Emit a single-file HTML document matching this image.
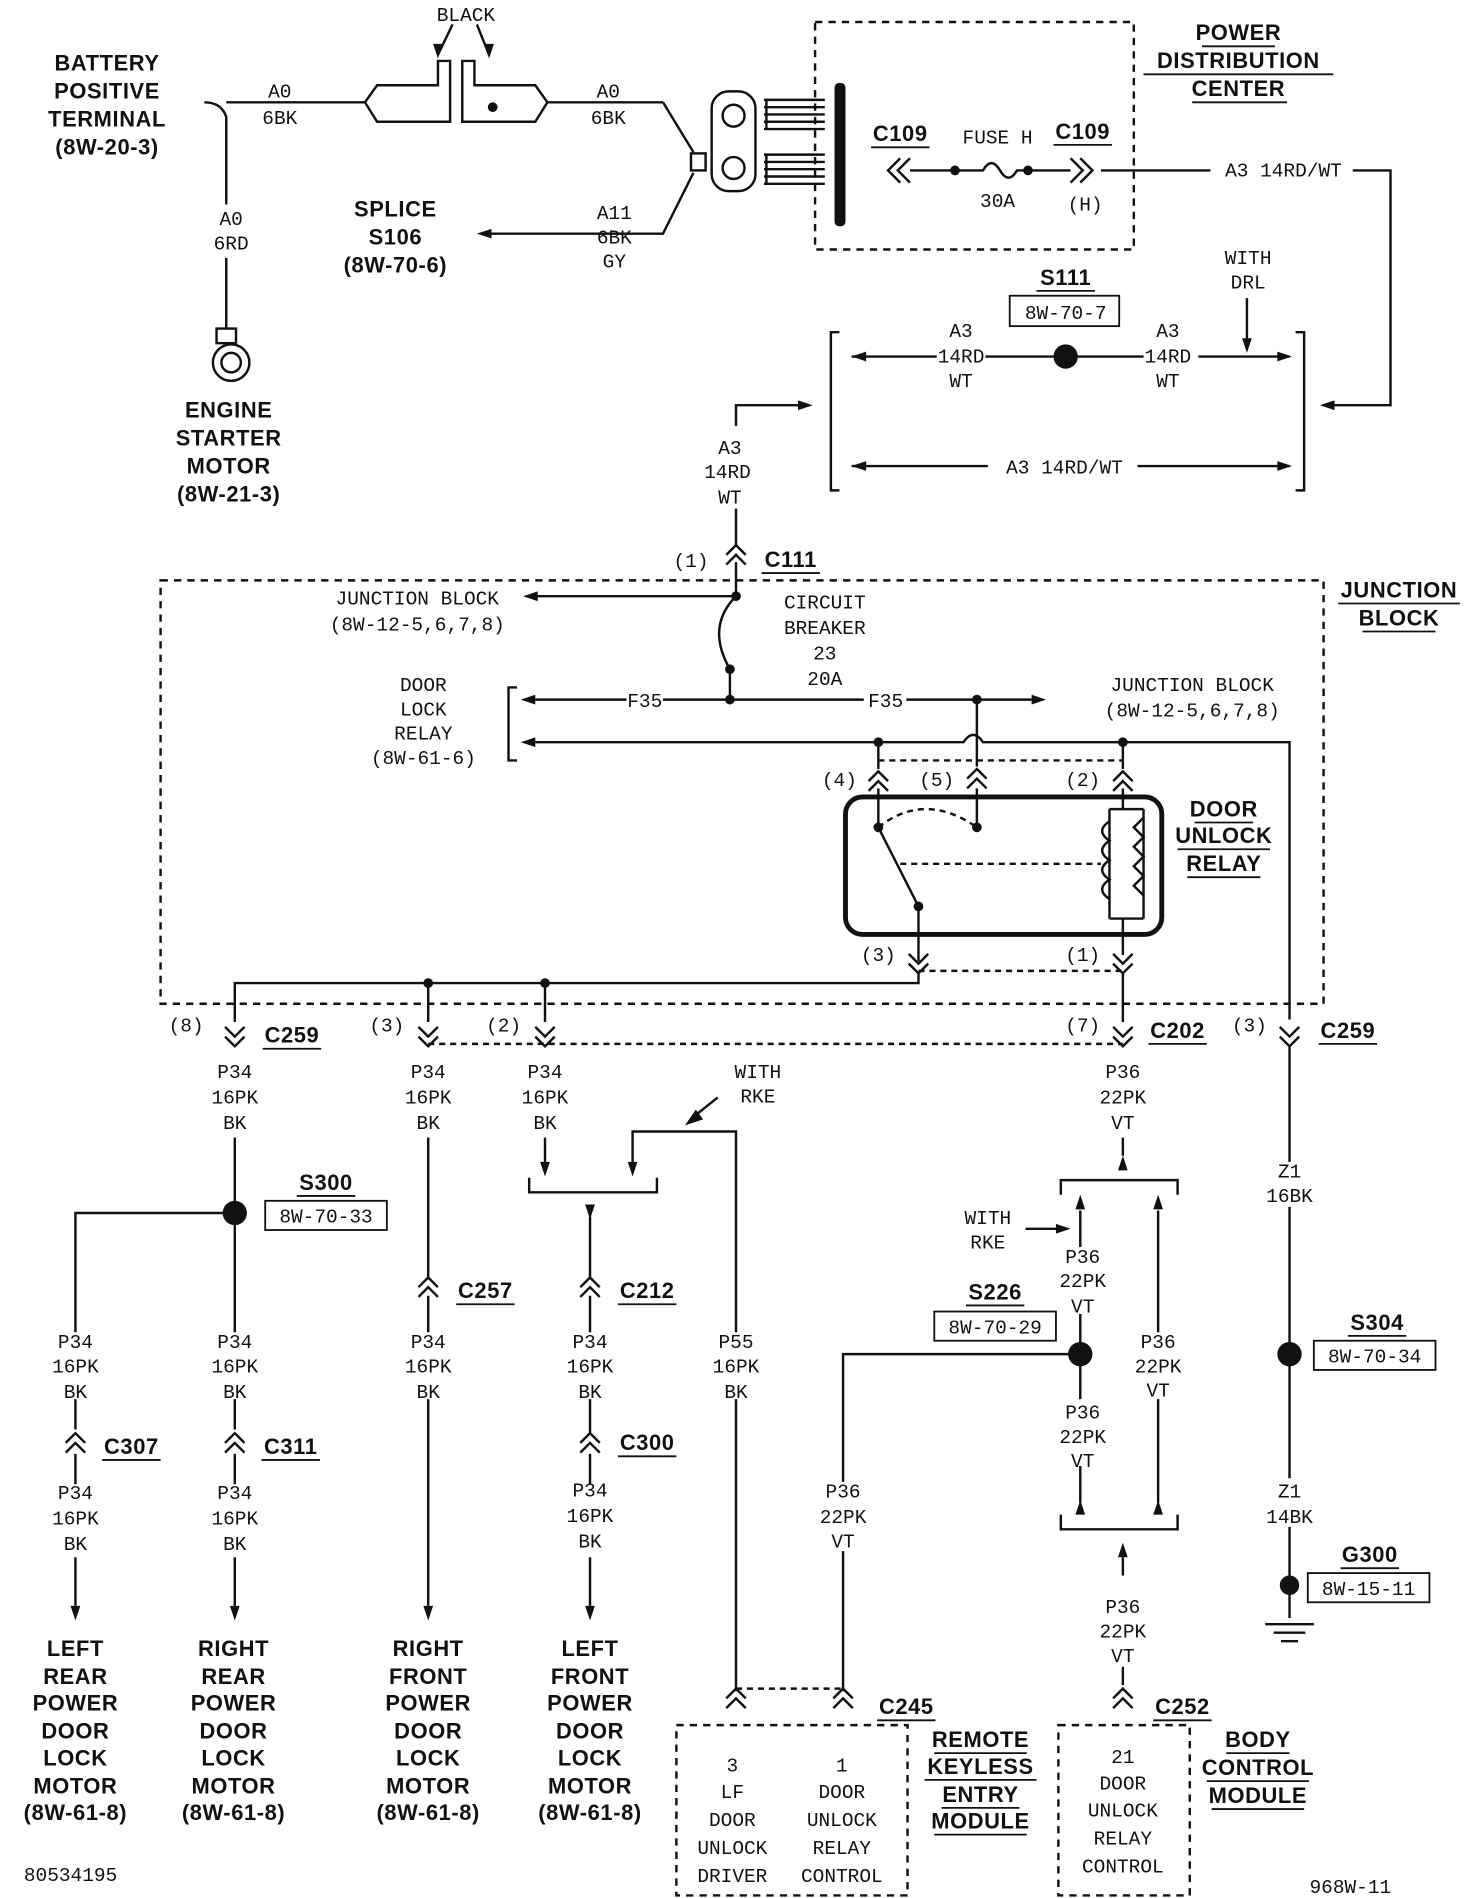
<!DOCTYPE html>
<html><head><meta charset="utf-8"><style>
html,body{margin:0;padding:0;background:#fff}
svg{display:block}
.t{font-family:"Liberation Mono",monospace;font-size:16px;fill:#111;text-anchor:middle}
.b{font-family:"Liberation Sans",sans-serif;font-weight:bold;font-size:18px;fill:#111;text-anchor:middle;letter-spacing:0.5px}
.l{text-anchor:start}
</style></head><body>
<svg width="1472" height="1898" viewBox="0 0 1210 1560" xmlns="http://www.w3.org/2000/svg">
<defs>
<path id="cv" d="M-8,-2 L0,-10 L8,-2 M-8,6 L0,-2 L8,6" fill="none" stroke="#111" stroke-width="2"/>
<path id="ad" d="M0,0 L-4,-12 L4,-12Z" fill="#111"/>
<path id="au" d="M0,0 L-4,12 L4,12Z" fill="#111"/>
<path id="al" d="M0,0 L12,-4 L12,4Z" fill="#111"/>
<path id="ar" d="M0,0 L-12,-4 L-12,4Z" fill="#111"/>
</defs>
<g stroke="#111" stroke-width="2" fill="none">
<path d="M168,84 Q182,84 186,96 L186,168 M186,212 L186,270"/>
<line x1="186" y1="84" x2="300" y2="84"/>
<rect x="178" y="270" width="16" height="12"/>
<circle cx="190" cy="298" r="15"/><circle cx="190" cy="298" r="8"/>
<path d="M300,84 L310,70 L360,70 L360,50 L370,50 L370,100 L310,100 Z"/>
<path d="M380,50 L390,50 L390,70 L440,70 L450,84 L440,100 L380,100 Z"/>
<path d="M372,20 L360,45 M392,20 L402,45"/>
<line x1="450" y1="84" x2="545" y2="84"/>
<path d="M545,84 L570,125 M400,192 L545,192 L570,142"/>
<rect x="568" y="126" width="12" height="14"/>
<rect x="585" y="75" width="36" height="82" rx="14"/>
<circle cx="603" cy="95" r="9"/><circle cx="603" cy="138" r="9"/>
<path d="M628,82 h50 M628,88 h50 M628,94 h50 M628,100 h50 M628,106 h50 M630,82 v24"/>
<path d="M628,127 h50 M628,133 h50 M628,139 h50 M628,145 h50 M628,151 h50 M630,127 v24"/>
<rect x="670" y="18" width="262" height="187" stroke-dasharray="6,5"/>
<path d="M748,130 L738,140 L748,150 M740,130 L730,140 L740,150"/>
<line x1="748" y1="140" x2="785" y2="140"/>
<path d="M785,140 L808,140 Q815,128 822,140 Q829,152 836,140 L845,140 L880,140"/>
<path d="M880,130 L890,140 L880,150 M888,130 L898,140 L888,150"/>
<line x1="905" y1="140" x2="995" y2="140"/>
<path d="M1112,140 L1143,140 L1143,333 L1090,333"/>
<rect x="830" y="243" width="90" height="25" stroke-width="1.5"/>
<path d="M690,273 L683,273 L683,403 L690,403 M1065,273 L1072,273 L1072,403 L1065,403"/>
<line x1="700" y1="293" x2="770" y2="293"/><line x1="810" y1="293" x2="940" y2="293"/><line x1="985" y1="293" x2="1060" y2="293"/>
<line x1="1025" y1="245" x2="1025" y2="283"/>
<line x1="700" y1="383" x2="812" y2="383"/><line x1="935" y1="383" x2="1060" y2="383"/>
<path d="M665,333 L605,333 L605,350 M605,418 L605,448"/>
<rect x="132" y="477" width="956" height="348" stroke-dasharray="6,5"/>
<line x1="605" y1="462" x2="605" y2="490"/>
<line x1="605" y1="490" x2="440" y2="490"/>
<path d="M605,490 Q580,515 600,550 L600,575"/>
<line x1="440" y1="575" x2="515" y2="575"/><line x1="545" y1="575" x2="710" y2="575"/><line x1="745" y1="575" x2="848" y2="575"/>
<path d="M425,565 L418,565 L418,625 L425,625"/>
<path d="M440,610 L792,610 Q800,598 808,610 L1060,610 L1060,838"/>
<line x1="803" y1="575" x2="803" y2="630"/>
<line x1="722" y1="610" x2="722" y2="632"/><line x1="923" y1="610" x2="923" y2="632"/>
<path d="M722,625 L923,625" stroke-dasharray="5,4"/>
<line x1="722" y1="648" x2="722" y2="680"/><line x1="803" y1="648" x2="803" y2="680"/><line x1="923" y1="648" x2="923" y2="665"/>
<rect x="695" y="655" width="260" height="113" rx="14" stroke-width="4"/>
<path d="M722,680 Q760,650 803,680" stroke-dasharray="5,4"/>
<path d="M722,680 L755,745 L755,790"/>
<path d="M740,710 L905,710" stroke-dasharray="5,4"/>
<path d="M912,665 L940,665 M912,665 L912,755 M940,665 L940,755 M912,755 L940,755"/>
<path d="M912,675 q-12,8 0,16 q-12,8 0,16 q-12,8 0,16 q-12,8 0,16"/>
<path d="M940,672 l-8,8 l8,8 l-8,8 l8,8 l-8,8 l8,8 l-8,8 l8,8"/>
<line x1="923" y1="755" x2="923" y2="785"/>
<path d="M755,798 L923,798" stroke-dasharray="5,4"/>
<path d="M755,800 L755,808 L193,808 L193,840"/>
<line x1="352" y1="808" x2="352" y2="840"/><line x1="448" y1="808" x2="448" y2="840"/><line x1="923" y1="800" x2="923" y2="840"/>
<path d="M352,858 L923,858" stroke-dasharray="5,4"/>
<line x1="193" y1="935" x2="193" y2="1095"/><line x1="193" y1="1150" x2="193" y2="1175"/><line x1="193" y1="1195" x2="193" y2="1220"/><line x1="193" y1="1280" x2="193" y2="1320"/>
<rect x="218" y="987" width="100" height="24" stroke-width="1.5"/>
<path d="M193,997 L62,997 L62,1095 M62,1150 L62,1175 M62,1195 L62,1220 M62,1280 L62,1320"/>
<path d="M352,935 L352,1050 M352,1065 L352,1095 M352,1150 L352,1320"/>
<line x1="448" y1="935" x2="448" y2="955"/>
<path d="M435,968 L435,980 L540,980 L540,968"/>
<path d="M520,955 L520,930 L605,930 L605,1095 M605,1150 L605,1390"/>
<line x1="590" y1="902" x2="570" y2="918"/>
<path d="M485,1000 L485,1050 M485,1065 L485,1095 M485,1150 L485,1178 M485,1195 L485,1220 M485,1280 L485,1320"/>
<path d="M923,935 L923,950"/>
<path d="M872,982 L872,970 L968,970 L968,982"/>
<line x1="843" y1="1010" x2="870" y2="1010"/>
<path d="M888,995 L888,1025 M888,1080 L888,1150 M888,1205 L888,1235"/>
<path d="M952,995 L952,1095 M952,1150 L952,1235"/>
<path d="M888,1113 L693,1113 L693,1218 M693,1275 L693,1390"/>
<rect x="768" y="1078" width="100" height="24" stroke-width="1.5"/>
<path d="M872,1245 L872,1257 L968,1257 L968,1245"/>
<line x1="923" y1="1295" x2="923" y2="1280"/>
<line x1="923" y1="1370" x2="923" y2="1385"/>
<path d="M1060,860 L1060,955 M1060,992 L1060,1215 M1060,1255 L1060,1330"/>
<rect x="1080" y="1102" width="100" height="24" stroke-width="1.5"/>
<rect x="1075" y="1293" width="100" height="24" stroke-width="1.5"/>
<path d="M1040,1335 L1080,1335 M1047,1342 L1073,1342 M1053,1349 L1067,1349"/>
<path d="M605,1388 L693,1388" stroke-dasharray="5,4"/>
<rect x="556" y="1418" width="190" height="140" stroke-dasharray="6,5"/>
<rect x="870" y="1418" width="108" height="140" stroke-dasharray="6,5"/>
</g>
<g fill="#111">
<circle cx="405" cy="88" r="4"/>
<rect x="686" y="68" width="9" height="118" rx="4"/>
<circle cx="785" cy="140" r="4"/><circle cx="845" cy="140" r="4"/>
<circle cx="876" cy="293" r="10"/>
<circle cx="605" cy="490" r="4"/><circle cx="600" cy="550" r="4"/>
<circle cx="600" cy="575" r="4"/><circle cx="803" cy="575" r="4"/>
<circle cx="722" cy="610" r="4"/><circle cx="923" cy="610" r="4"/>
<circle cx="722" cy="680" r="4"/><circle cx="803" cy="680" r="4"/><circle cx="755" cy="745" r="4"/>
<circle cx="352" cy="808" r="4"/><circle cx="448" cy="808" r="4"/>
<circle cx="193" cy="997" r="10"/><circle cx="888" cy="1113" r="10"/><circle cx="1060" cy="1113" r="10"/>
<circle cx="1060" cy="1303" r="8"/>
</g>
<use href="#ad" x="360" y="48"/><use href="#ad" x="402" y="48"/>
<use href="#al" x="392" y="192"/><use href="#al" x="1085" y="333"/>
<use href="#ar" x="668" y="333"/>
<use href="#al" x="700" y="293"/><use href="#ar" x="1062" y="293"/>
<use href="#al" x="700" y="383"/><use href="#ar" x="1062" y="383"/>
<use href="#ad" x="1025" y="290"/>
<use href="#al" x="430" y="490"/><use href="#al" x="428" y="575"/><use href="#ar" x="860" y="575"/><use href="#al" x="428" y="610"/>
<use href="#ad" x="193" y="1332"/><use href="#ad" x="62" y="1332"/><use href="#ad" x="352" y="1332"/><use href="#ad" x="485" y="1332"/>
<use href="#ad" x="448" y="967"/><use href="#ad" x="520" y="967"/><use href="#ad" x="485" y="1002"/>
<path d="M563,925 L572,912 L578,920Z" fill="#111"/>
<use href="#au" x="923" y="950"/><use href="#ar" x="880" y="1010"/>
<use href="#au" x="888" y="982"/><use href="#au" x="952" y="982"/>
<use href="#au" x="888" y="1233"/><use href="#au" x="952" y="1233"/>
<use href="#au" x="923" y="1268"/>
<use href="#cv" x="605" y="458"/>
<use href="#cv" x="722" y="644"/><use href="#cv" x="803" y="642"/><use href="#cv" x="923" y="644"/>
<g transform="translate(755,790) scale(1,-1)"><use href="#cv"/></g>
<g transform="translate(923,790) scale(1,-1)"><use href="#cv"/></g>
<g transform="translate(193,850) scale(1,-1)"><use href="#cv"/></g>
<g transform="translate(352,850) scale(1,-1)"><use href="#cv"/></g>
<g transform="translate(448,850) scale(1,-1)"><use href="#cv"/></g>
<g transform="translate(923,850) scale(1,-1)"><use href="#cv"/></g>
<g transform="translate(1060,850) scale(1,-1)"><use href="#cv"/></g>
<use href="#cv" x="352" y="1060"/><use href="#cv" x="485" y="1060"/>
<use href="#cv" x="62" y="1188"/><use href="#cv" x="193" y="1188"/><use href="#cv" x="485" y="1188"/>
<use href="#cv" x="605" y="1398"/><use href="#cv" x="693" y="1398"/><use href="#cv" x="923" y="1398"/>
<g class="b">
<text x="88" y="58">BATTERY</text><text x="88" y="81">POSITIVE</text><text x="88" y="104">TERMINAL</text><text x="88" y="127">(8W-20-3)</text>
<text x="188" y="343">ENGINE</text><text x="188" y="366">STARTER</text><text x="188" y="389">MOTOR</text><text x="188" y="412">(8W-21-3)</text>
<text x="325" y="178">SPLICE</text><text x="325" y="201">S106</text><text x="325" y="224">(8W-70-6)</text>
<text x="1018" y="33">POWER</text><text x="1018" y="56">DISTRIBUTION</text><text x="1018" y="79">CENTER</text>
<text x="740" y="116">C109</text><text x="890" y="114">C109</text>
<text x="876" y="234">S111</text>
<text x="650" y="466">C111</text>
<text x="1150" y="491">JUNCTION</text><text x="1150" y="514">BLOCK</text>
<text x="1006" y="671">DOOR</text><text x="1006" y="693">UNLOCK</text><text x="1006" y="716">RELAY</text>
<text x="240" y="857">C259</text><text x="968" y="853">C202</text><text x="1108" y="853">C259</text>
<text x="268" y="978">S300</text><text x="818" y="1068">S226</text><text x="1132" y="1093">S304</text><text x="1126" y="1284">G300</text>
<text x="399" y="1067">C257</text><text x="532" y="1067">C212</text>
<text x="108" y="1195">C307</text><text x="239" y="1195">C311</text><text x="532" y="1192">C300</text>
<text x="745" y="1409">C245</text><text x="972" y="1409">C252</text>
</g>
<g class="b" font-size="17">
<text x="62" y="1361">LEFT</text><text x="62" y="1384">REAR</text><text x="62" y="1406">POWER</text><text x="62" y="1429">DOOR</text><text x="62" y="1451">LOCK</text><text x="62" y="1474">MOTOR</text><text x="62" y="1496">(8W-61-8)</text>
<text x="192" y="1361">RIGHT</text><text x="192" y="1384">REAR</text><text x="192" y="1406">POWER</text><text x="192" y="1429">DOOR</text><text x="192" y="1451">LOCK</text><text x="192" y="1474">MOTOR</text><text x="192" y="1496">(8W-61-8)</text>
<text x="352" y="1361">RIGHT</text><text x="352" y="1384">FRONT</text><text x="352" y="1406">POWER</text><text x="352" y="1429">DOOR</text><text x="352" y="1451">LOCK</text><text x="352" y="1474">MOTOR</text><text x="352" y="1496">(8W-61-8)</text>
<text x="485" y="1361">LEFT</text><text x="485" y="1384">FRONT</text><text x="485" y="1406">POWER</text><text x="485" y="1429">DOOR</text><text x="485" y="1451">LOCK</text><text x="485" y="1474">MOTOR</text><text x="485" y="1496">(8W-61-8)</text>
<text x="806" y="1436">REMOTE</text><text x="806" y="1458">KEYLESS</text><text x="806" y="1481">ENTRY</text><text x="806" y="1503">MODULE</text>
<text x="1034" y="1436">BODY</text><text x="1034" y="1459">CONTROL</text><text x="1034" y="1482">MODULE</text>
</g>
<g stroke="#111" stroke-width="1.5">
<line x1="988" y1="38" x2="1048" y2="38"/><line x1="940" y1="61" x2="1096" y2="61"/><line x1="980" y1="84" x2="1058" y2="84"/>
<line x1="716" y1="121" x2="764" y2="121"/><line x1="866" y1="119" x2="914" y2="119"/><line x1="852" y1="239" x2="900" y2="239"/>
<line x1="626" y1="471" x2="674" y2="471"/>
<line x1="1100" y1="496" x2="1200" y2="496"/><line x1="1120" y1="519" x2="1180" y2="519"/>
<line x1="982" y1="676" x2="1030" y2="676"/><line x1="968" y1="698" x2="1044" y2="698"/><line x1="976" y1="721" x2="1036" y2="721"/>
<line x1="216" y1="862" x2="264" y2="862"/><line x1="944" y1="858" x2="992" y2="858"/><line x1="1084" y1="858" x2="1132" y2="858"/>
<line x1="244" y1="983" x2="292" y2="983"/><line x1="794" y1="1073" x2="842" y2="1073"/><line x1="1108" y1="1098" x2="1156" y2="1098"/><line x1="1102" y1="1289" x2="1150" y2="1289"/>
<line x1="375" y1="1072" x2="423" y2="1072"/><line x1="508" y1="1072" x2="556" y2="1072"/>
<line x1="84" y1="1200" x2="132" y2="1200"/><line x1="215" y1="1200" x2="263" y2="1200"/><line x1="508" y1="1197" x2="556" y2="1197"/>
<line x1="721" y1="1414" x2="769" y2="1414"/><line x1="948" y1="1414" x2="996" y2="1414"/>
<line x1="768" y1="1441" x2="844" y2="1441"/><line x1="760" y1="1463" x2="852" y2="1463"/><line x1="774" y1="1486" x2="838" y2="1486"/><line x1="768" y1="1508" x2="844" y2="1508"/>
<line x1="1008" y1="1441" x2="1060" y2="1441"/><line x1="992" y1="1464" x2="1076" y2="1464"/><line x1="996" y1="1487" x2="1072" y2="1487"/>
</g>
<g class="t">
<text x="383" y="17">BLACK</text>
<text x="230" y="80">A0</text><text x="230" y="102">6BK</text>
<text x="500" y="80">A0</text><text x="500" y="102">6BK</text>
<text x="190" y="185">A0</text><text x="190" y="205">6RD</text>
<text x="505" y="180">A11</text><text x="505" y="200">6BK</text><text x="505" y="220">GY</text>
<text x="820" y="118">FUSE H</text><text x="820" y="170">30A</text><text x="892" y="173">(H)</text>
<text x="1055" y="145">A3 14RD/WT</text>
<text x="876" y="262">8W-70-7</text>
<text x="1026" y="217">WITH</text><text x="1026" y="237">DRL</text>
<text x="790" y="277">A3</text><text x="790" y="298">14RD</text><text x="790" y="318">WT</text>
<text x="960" y="277">A3</text><text x="960" y="298">14RD</text><text x="960" y="318">WT</text>
<text x="875" y="389">A3 14RD/WT</text>
<text x="600" y="373">A3</text><text x="598" y="393">14RD</text><text x="600" y="414">WT</text>
<text x="568" y="466">(1)</text>
<text x="343" y="497">JUNCTION BLOCK</text><text x="343" y="518">(8W-12-5,6,7,8)</text>
<text x="678" y="500">CIRCUIT</text><text x="678" y="521">BREAKER</text><text x="678" y="542">23</text><text x="678" y="563">20A</text>
<text x="530" y="581">F35</text><text x="728" y="581">F35</text>
<text x="348" y="568">DOOR</text><text x="348" y="588">LOCK</text><text x="348" y="608">RELAY</text><text x="348" y="628">(8W-61-6)</text>
<text x="980" y="568">JUNCTION BLOCK</text><text x="980" y="589">(8W-12-5,6,7,8)</text>
<text x="690" y="646">(4)</text><text x="770" y="646">(5)</text><text x="890" y="646">(2)</text>
<text x="722" y="790">(3)</text><text x="890" y="790">(1)</text>
<text x="153" y="848">(8)</text><text x="318" y="848">(3)</text><text x="414" y="848">(2)</text><text x="890" y="848">(7)</text><text x="1027" y="848">(3)</text>
<text x="193" y="886">P34</text><text x="193" y="907">16PK</text><text x="193" y="928">BK</text>
<text x="352" y="886">P34</text><text x="352" y="907">16PK</text><text x="352" y="928">BK</text>
<text x="448" y="886">P34</text><text x="448" y="907">16PK</text><text x="448" y="928">BK</text>
<text x="923" y="886">P36</text><text x="923" y="907">22PK</text><text x="923" y="928">VT</text>
<text x="623" y="886">WITH</text><text x="623" y="906">RKE</text>
<text x="1060" y="968">Z1</text><text x="1060" y="988">16BK</text>
<text x="268" y="1005">8W-70-33</text><text x="818" y="1096">8W-70-29</text><text x="1130" y="1120">8W-70-34</text><text x="1125" y="1311">8W-15-11</text>
<text x="812" y="1006">WITH</text><text x="812" y="1026">RKE</text>
<text x="890" y="1038">P36</text><text x="890" y="1058">22PK</text><text x="890" y="1079">VT</text>
<text x="952" y="1108">P36</text><text x="952" y="1128">22PK</text><text x="952" y="1148">VT</text>
<text x="890" y="1166">P36</text><text x="890" y="1186">22PK</text><text x="890" y="1206">VT</text>
<text x="62" y="1108">P34</text><text x="62" y="1128">16PK</text><text x="62" y="1149">BK</text>
<text x="193" y="1108">P34</text><text x="193" y="1128">16PK</text><text x="193" y="1149">BK</text>
<text x="352" y="1108">P34</text><text x="352" y="1128">16PK</text><text x="352" y="1149">BK</text>
<text x="485" y="1108">P34</text><text x="485" y="1128">16PK</text><text x="485" y="1149">BK</text>
<text x="605" y="1108">P55</text><text x="605" y="1128">16PK</text><text x="605" y="1149">BK</text>
<text x="62" y="1232">P34</text><text x="62" y="1253">16PK</text><text x="62" y="1274">BK</text>
<text x="193" y="1232">P34</text><text x="193" y="1253">16PK</text><text x="193" y="1274">BK</text>
<text x="485" y="1230">P34</text><text x="485" y="1251">16PK</text><text x="485" y="1272">BK</text>
<text x="693" y="1231">P36</text><text x="693" y="1252">22PK</text><text x="693" y="1272">VT</text>
<text x="1060" y="1231">Z1</text><text x="1060" y="1252">14BK</text>
<text x="923" y="1326">P36</text><text x="923" y="1346">22PK</text><text x="923" y="1366">VT</text>
<text x="602" y="1456">3</text><text x="602" y="1478">LF</text><text x="602" y="1501">DOOR</text><text x="602" y="1524">UNLOCK</text><text x="602" y="1547">DRIVER</text>
<text x="692" y="1456">1</text><text x="692" y="1478">DOOR</text><text x="692" y="1501">UNLOCK</text><text x="692" y="1524">RELAY</text><text x="692" y="1547">CONTROL</text>
<text x="923" y="1449">21</text><text x="923" y="1471">DOOR</text><text x="923" y="1493">UNLOCK</text><text x="923" y="1516">RELAY</text><text x="923" y="1539">CONTROL</text>
<text x="58" y="1546">80534195</text><text x="1110" y="1556">968W-11</text>
</g>
</svg>
</body></html>
